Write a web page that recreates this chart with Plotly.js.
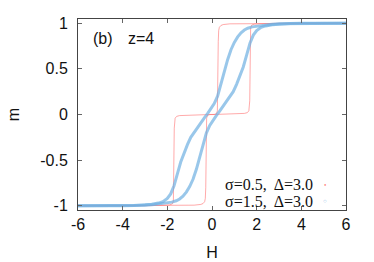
<!DOCTYPE html>
<html>
<head>
<meta charset="utf-8">
<script src="https://cdn.plot.ly/plotly-3.0.1.min.js"></script>
<style>html,body{margin:0;padding:0;background:#fff;}#chart{width:374px;height:262px;}</style>
</head>
<body>
<div id="chart"></div>
<script>
// sigma = 0.5, Delta = 3.0 : increasing-field branch
const redUpH = [-6, -3, -1.5, -0.8, -0.5, -0.4, -0.33, -0.3, -0.28, -0.27, -0.26, -0.24, -0.2, -0.1, 0.3, 0.8, 1.2, 1.45, 1.58, 1.65, 1.69, 1.7, 1.71, 1.73, 1.78, 1.9, 2.2, 3, 6];
const redUpM = [-1, -0.999, -0.997, -0.993, -0.985, -0.975, -0.955, -0.92, -0.8, -0.5, -0.15, -0.04, -0.01, 0, 0.002, 0.004, 0.007, 0.012, 0.02, 0.04, 0.15, 0.5, 0.85, 0.95, 0.98, 0.99, 0.995, 0.999, 1];
// sigma = 0.5, Delta = 3.0 : decreasing-field branch
const redDownH = [6, 3, 1.5, 0.8, 0.5, 0.4, 0.33, 0.3, 0.28, 0.27, 0.26, 0.24, 0.2, 0.1, -0.3, -0.8, -1.2, -1.45, -1.58, -1.65, -1.69, -1.7, -1.71, -1.73, -1.78, -1.9, -2.2, -3, -6];
const redDownM = [1, 0.999, 0.997, 0.993, 0.985, 0.975, 0.955, 0.92, 0.8, 0.5, 0.15, 0.04, 0.01, 0, -0.002, -0.004, -0.007, -0.012, -0.02, -0.04, -0.15, -0.5, -0.85, -0.95, -0.98, -0.99, -0.995, -0.999, -1];

// sigma = 1.5, Delta = 3.0 : increasing-field branch
const blueUpH = [-6, -5, -4, -3.5, -3, -2.6, -2.3, -2, -1.8, -1.6, -1.45, -1.3, -1.15, -1.0, -0.85, -0.7, -0.55, -0.4, -0.25, -0.1, 0.05, 0.2, 0.35, 0.5, 0.65, 0.8, 0.95, 1.1, 1.25, 1.4, 1.55, 1.7, 1.85, 2.0, 2.2, 2.4, 2.7, 3.0, 3.5, 4, 5, 6];
const blueUpM = [-1, -1, -0.999, -0.997, -0.993, -0.987, -0.98, -0.97, -0.96, -0.945, -0.925, -0.895, -0.85, -0.79, -0.71, -0.6, -0.46, -0.33, -0.2, -0.12, -0.06, -0.01, 0.04, 0.09, 0.14, 0.19, 0.25, 0.33, 0.42, 0.52, 0.65, 0.78, 0.87, 0.92, 0.955, 0.97, 0.983, 0.99, 0.996, 0.999, 1, 1];
// sigma = 1.5, Delta = 3.0 : decreasing-field branch
const blueDownH = [6, 5, 4, 3.5, 3, 2.6, 2.3, 2, 1.8, 1.6, 1.45, 1.3, 1.15, 1.0, 0.85, 0.7, 0.55, 0.4, 0.25, 0.1, -0.05, -0.2, -0.35, -0.5, -0.65, -0.8, -0.95, -1.1, -1.25, -1.4, -1.55, -1.7, -1.85, -2.0, -2.2, -2.4, -2.7, -3.0, -3.5, -4, -5, -6];
const blueDownM = [1, 1, 0.999, 0.997, 0.993, 0.987, 0.98, 0.97, 0.96, 0.945, 0.925, 0.895, 0.85, 0.79, 0.71, 0.6, 0.46, 0.33, 0.2, 0.12, 0.06, 0.01, -0.04, -0.09, -0.14, -0.19, -0.25, -0.33, -0.42, -0.52, -0.65, -0.78, -0.87, -0.92, -0.955, -0.97, -0.983, -0.99, -0.996, -0.999, -1, -1];

const xTickVals = [-6, -4, -2, 0, 2, 4, 6];
const xTickText = ['-6', '-4', '-2', '0', '2', '4', '6'];
const yTickVals = [-1, -0.5, 0, 0.5, 1];
const yTickText = ['-1', '-0.5', '0', '0.5', '1'];
const seriesLabels = ['σ=0.5,\u00a0 Δ=3.0', 'σ=1.5,\u00a0 Δ=3.0'];

const redLine = {color: 'rgba(255,100,100,0.55)', width: 1};
const blueLine = {color: 'rgba(110,175,225,0.7)', width: 3};

const traces = [
  {x: redUpH, y: redUpM, mode: 'lines', line: redLine, name: seriesLabels[0], showlegend: false, hoverinfo: 'skip'},
  {x: redDownH, y: redDownM, mode: 'lines', line: redLine, name: seriesLabels[0], showlegend: false, hoverinfo: 'skip'},
  {x: blueUpH, y: blueUpM, mode: 'lines', line: blueLine, name: seriesLabels[1], showlegend: false, hoverinfo: 'skip'},
  {x: blueDownH, y: blueDownM, mode: 'lines', line: blueLine, name: seriesLabels[1], showlegend: false, hoverinfo: 'skip'}
];

const axisFont = {family: 'Liberation Sans, Arial, sans-serif', size: 16, color: '#111'};
const serifFont = {family: 'Liberation Serif, Times New Roman, serif', size: 16, color: '#111'};

const layout = {
  width: 374, height: 262,
  margin: {l: 78, r: 28, t: 19, b: 52, pad: 0},
  paper_bgcolor: '#fff', plot_bgcolor: '#fff',
  showlegend: false,
  font: axisFont,
  xaxis: {
    range: [-6, 6], tickvals: xTickVals, ticktext: xTickText,
    ticks: 'inside', ticklen: 4, tickcolor: '#666', tickwidth: 1,
    showline: true, linecolor: '#444', linewidth: 1, mirror: 'ticks',
    showgrid: false, zeroline: false, tickfont: axisFont,
    ticklabelstandoff: 0,
    title: {text: 'H', font: axisFont, standoff: 14}
  },
  yaxis: {
    range: [-1.046, 1.046], tickvals: yTickVals, ticktext: yTickText,
    ticks: 'inside', ticklen: 4, tickcolor: '#666', tickwidth: 1,
    showline: true, linecolor: '#444', linewidth: 1, mirror: 'ticks',
    showgrid: false, zeroline: false, tickfont: axisFont,
    ticklabelstandoff: 6,
    title: {text: 'm', font: axisFont, standoff: 16}
  },
  annotations: [
    {xref: 'paper', yref: 'paper', x: 0.05, y: 0.90, xanchor: 'left', yanchor: 'middle', text: '(b)', showarrow: false, font: axisFont},
    {xref: 'paper', yref: 'paper', x: 0.178, y: 0.90, xanchor: 'left', yanchor: 'middle', text: 'z=4', showarrow: false, font: axisFont},
    {xref: 'paper', yref: 'paper', x: 0.884, y: 0.131, xanchor: 'right', yanchor: 'middle', text: seriesLabels[0], showarrow: false, font: serifFont},
    {xref: 'paper', yref: 'paper', x: 0.884, y: 0.047, xanchor: 'right', yanchor: 'middle', text: seriesLabels[1], showarrow: false, font: serifFont},
    {xref: 'paper', yref: 'paper', x: 0.922, y: 0.131, xanchor: 'center', yanchor: 'middle', text: '●', showarrow: false, font: {size: 4, color: 'rgba(255,100,100,0.9)'}},
    {xref: 'paper', yref: 'paper', x: 0.922, y: 0.047, xanchor: 'center', yanchor: 'middle', text: '○', showarrow: false, font: {size: 6, color: 'rgba(95,165,220,0.9)'}}
  ]
};

Plotly.newPlot('chart', traces, layout, {staticPlot: true, displayModeBar: false});
</script>
</body>
</html>
